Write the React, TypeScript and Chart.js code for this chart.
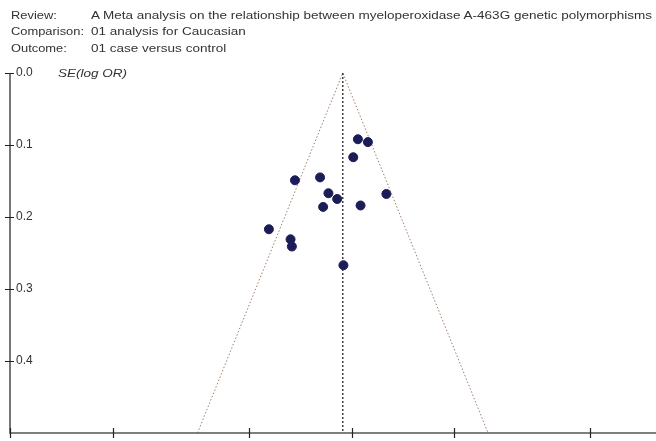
import React, { useEffect, useRef } from "react";
import { Chart, registerables } from "chart.js";

Chart.register(...registerables);

const headerLabels = ["Review:", "Comparison:", "Outcome:"];
const headerTexts = [
  "A Meta analysis on the relationship between myeloperoxidase A-463G genetic polymorphisms and",
  "01 analysis for Caucasian",
  "01 case versus control",
];

const studyOR = [1.044, 1.117, 1.012, 0.683, 0.809, 0.856, 0.908, 0.826, 1.063, 1.265, 0.573, 0.663, 0.669, 0.947];
const studySE = [0.092, 0.096, 0.117, 0.149, 0.145, 0.167, 0.175, 0.186, 0.184, 0.168, 0.217, 0.231, 0.241, 0.267];

const pooledOR = 0.943;
const funnelOR = [0.354, 0.943, 2.512];
const funnelSE = [0.5, 0, 0.5];
const centerSE = [0, 0.5];

const xTicks = [0.1, 0.2, 0.5, 1, 2, 5, 10];
const yTicks = [0, 0.1, 0.2, 0.3, 0.4];

const FONT = "'Liberation Sans', Arial, sans-serif";

export default function App() {
  const ref = useRef<HTMLCanvasElement | null>(null);

  useEffect(() => {
    document.body.style.margin = "0";
    document.body.style.overflow = "hidden";
    const canvas = ref.current;
    if (!canvas) return;

    const axesPlugin = {
      id: "revmanAxes",
      afterDraw(chart: any) {
        const { ctx, chartArea, scales } = chart;
        const xs = scales.x;
        const ys = scales.y;
        ctx.save();
        ctx.strokeStyle = "#555";
        ctx.lineWidth = 1.6;
        ctx.beginPath();
        ctx.moveTo(chartArea.left, chartArea.top);
        ctx.lineTo(chartArea.left, chartArea.bottom);
        ctx.lineTo(chart.width, chartArea.bottom);
        ctx.stroke();
        ctx.strokeStyle = "#222";
        ctx.lineWidth = 1.2;
        ctx.beginPath();
        for (const v of yTicks) {
          const y = Math.round(ys.getPixelForValue(v)) + 0.5;
          ctx.moveTo(chartArea.left - 5, y);
          ctx.lineTo(chartArea.left + 4, y);
        }
        for (const v of xTicks) {
          const x = Math.round(xs.getPixelForValue(v)) + 0.5;
          ctx.moveTo(x, chartArea.bottom - 5);
          ctx.lineTo(x, chartArea.bottom + 5);
        }
        ctx.stroke();
        ctx.restore();
      },
    };

    const chart = new Chart(canvas, {
      type: "scatter",
      data: {
        datasets: [
          {
            type: "line",
            data: funnelOR.map((x, i) => ({ x, y: funnelSE[i] })),
            borderColor: "#9e7e6c",
            borderWidth: 1,
            borderDash: [1.5, 2],
            pointRadius: 0,
            fill: false,
            order: 3,
          },
          {
            type: "line",
            data: centerSE.map((y) => ({ x: pooledOR, y })),
            borderColor: "#111",
            borderWidth: 1.2,
            borderDash: [2, 2],
            pointRadius: 0,
            fill: false,
            order: 2,
          },
          {
            type: "scatter",
            data: studyOR.map((x, i) => ({ x, y: studySE[i] })),
            backgroundColor: "#1c1c58",
            borderColor: "#1c1c58",
            pointRadius: 4.5,
            order: 1,
          },
        ],
      },
      options: {
        animation: false,
        responsive: false,
        maintainAspectRatio: false,
        layout: { padding: { left: 0, right: 27, top: 73, bottom: 0 } },
        plugins: { legend: { display: false }, tooltip: { enabled: false } },
        scales: {
          x: {
            type: "logarithmic",
            min: 0.1,
            max: 10,
            afterBuildTicks(scale: any) {
              scale.ticks = xTicks.map((value) => ({ value }));
            },
            afterFit(scale: any) {
              scale.height = 37;
              scale.paddingLeft = 0;
              scale.paddingRight = 0;
            },
            grid: { display: false, drawTicks: false },
            border: { display: false },
            ticks: {
              padding: 6,
              color: "#333",
              font: { family: FONT, size: 12 },
              autoSkip: false,
              maxRotation: 0,
              callback: (v: any) => String(v),
            },
          },
          y: {
            type: "linear",
            reverse: true,
            min: 0,
            max: 0.5,
            afterBuildTicks(scale: any) {
              scale.ticks = yTicks.map((value) => ({ value }));
            },
            afterFit(scale: any) {
              scale.width = 10;
              scale.paddingTop = 0;
              scale.paddingBottom = 0;
            },
            grid: { display: false, drawTicks: false },
            border: { display: false },
            ticks: {
              mirror: true,
              padding: 6,
              color: "#333",
              font: { family: FONT, size: 12 },
              callback: (v: any) => Number(v).toFixed(1),
            },
          },
        },
      },
      plugins: [axesPlugin],
    } as any);

    return () => chart.destroy();
  }, []);

  const textStyle: React.CSSProperties = {
    position: "absolute",
    fontSize: 11.5,
    whiteSpace: "nowrap",
    lineHeight: "14px",
    transform: "scaleX(1.175)",
    transformOrigin: "left center",
  };

  return (
    <div style={{ position: "fixed", left: 0, top: 0, width: 720, height: 470, background: "#fff", fontFamily: FONT, color: "#333" }}>
      <canvas ref={ref} width={720} height={470} style={{ position: "absolute", left: 0, top: 0 }} />
      {headerLabels.map((l, i) => (
        <div key={l} style={{ ...textStyle, left: 11, top: 8 + i * 16.4, transform: "scaleX(1.12)" }}>
          {l}
        </div>
      ))}
      {headerTexts.map((t, i) => (
        <div key={i} style={{ ...textStyle, left: 91, top: 8 + i * 16.4 }}>
          {t}
        </div>
      ))}
      <div style={{ ...textStyle, left: 58, top: 66, fontStyle: "italic" }}>SE(log OR)</div>
    </div>
  );
}
